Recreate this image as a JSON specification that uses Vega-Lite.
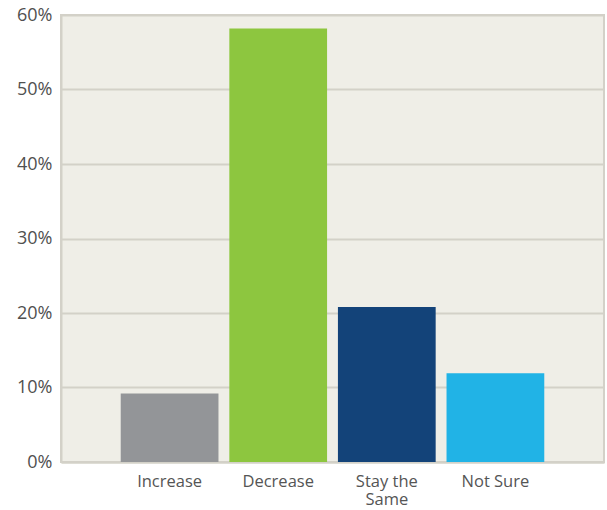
{
  "$schema": "https://vega.github.io/schema/vega-lite/v6.json",
  "width": 543,
  "height": 447,
  "autosize": {"type": "none"},
  "padding": {"left": 61, "top": 15, "right": 3, "bottom": 48},
  "background": "#ffffff",
  "config": {
    "view": {"fill": "#efeee7", "stroke": "#d3d1c8", "strokeWidth": 2},
    "font": "Open Sans"
  },
  "data": {
    "values": [
      {"answer": "Increase", "share": 0.092, "color": "#939598"},
      {"answer": "Decrease", "share": 0.582, "color": "#8dc63f"},
      {"answer": "Stay the Same", "share": 0.208, "color": "#134379"},
      {"answer": "Not Sure", "share": 0.119, "color": "#21b3e6"}
    ]
  },
  "mark": {"type": "bar"},
  "encoding": {
    "x": {
      "field": "answer",
      "type": "nominal",
      "sort": null,
      "scale": {"paddingInner": 0.1, "paddingOuter": 0.55},
      "axis": {
        "title": null,
        "labelAngle": 0,
        "labelFontSize": 16.5,
        "labelColor": "#555555",
        "labelPadding": 11,
        "labelLineHeight": 18.5,
        "labelExpr": "datum.value == 'Stay the Same' ? ['Stay the', 'Same'] : datum.value",
        "ticks": false,
        "domain": true,
        "domainColor": "#d3d1c8",
        "domainWidth": 2
      }
    },
    "y": {
      "field": "share",
      "type": "quantitative",
      "scale": {"domain": [0, 0.6], "nice": false},
      "axis": {
        "title": null,
        "format": ".0%",
        "values": [0, 0.1, 0.2, 0.3, 0.4, 0.5, 0.6],
        "labelFontSize": 18,
        "labelColor": "#505050",
        "labelPadding": 9,
        "ticks": false,
        "domain": true,
        "domainColor": "#d3d1c8",
        "domainWidth": 2,
        "grid": true,
        "gridColor": "#d3d1c8",
        "gridWidth": 2
      }
    },
    "color": {"field": "color", "type": "nominal", "scale": null, "legend": null}
  }
}
